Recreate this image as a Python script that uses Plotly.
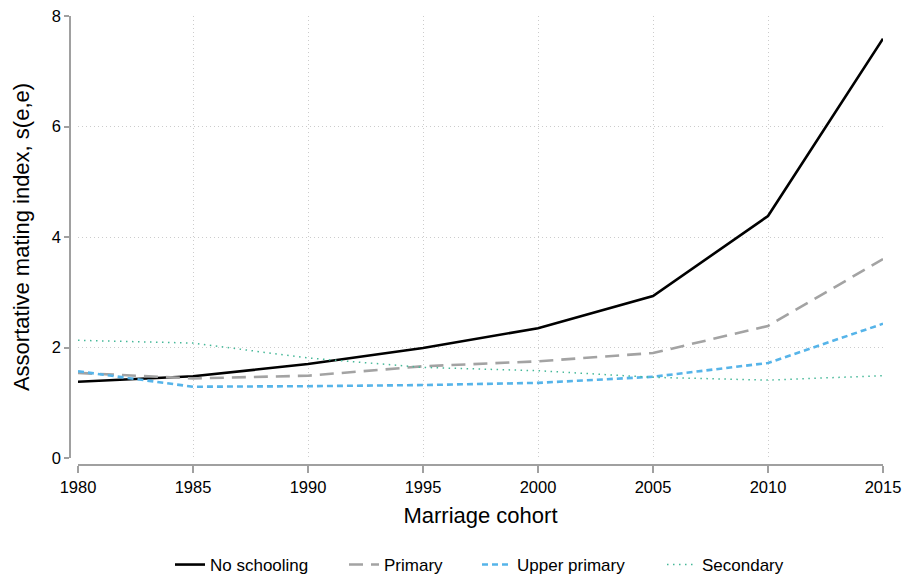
import plotly.graph_objects as go

years = [1980, 1985, 1990, 1995, 2000, 2005, 2010, 2015]
no_schooling = [1.38, 1.48, 1.70, 1.99, 2.35, 2.93, 4.38, 7.59]
primary = [1.54, 1.44, 1.49, 1.66, 1.75, 1.90, 2.39, 3.60]
upper_primary = [1.57, 1.29, 1.30, 1.32, 1.36, 1.47, 1.72, 2.43]
secondary = [2.13, 2.08, 1.81, 1.64, 1.58, 1.46, 1.41, 1.49]

x_ticks = [1980, 1985, 1990, 1995, 2000, 2005, 2010, 2015]
y_ticks = [0, 2, 4, 6, 8]

FONT = "Liberation Sans, Arial, sans-serif"

W, H = 905, 580
# plot area (page coords): x 70..883, y 16..465
ml, mt = 70, 16
mr = W - 883
mb = H - 465
pw = W - ml - mr
ph = H - mt - mb

def px_x(page_x):
    return (page_x - ml) / pw

def px_y(page_y):
    return (mt + ph - page_y) / ph

fig = go.Figure()
fig.add_trace(go.Scatter(x=years, y=no_schooling, mode="lines", name="No schooling",
                         line=dict(color="#000000", width=2.6), legend="legend"))
fig.add_trace(go.Scatter(x=years, y=primary, mode="lines", name="Primary",
                         line=dict(color="#a3a3a3", width=2.6, dash="14px,8px"), legend="legend2"))
fig.add_trace(go.Scatter(x=years, y=upper_primary, mode="lines", name="Upper primary",
                         line=dict(color="#56b4e9", width=2.6, dash="6px,4px"), legend="legend3"))
fig.add_trace(go.Scatter(x=years, y=secondary, mode="lines", name="Secondary",
                         line=dict(color="#45b898", width=1.5, dash="1.5px,4.5px"), legend="legend4"))

legend_starts = [175, 349, 482, 667]

def leg(sx):
    return dict(x=px_x(sx - 5), xanchor="left", y=px_y(565), yanchor="middle",
                font=dict(size=17), bgcolor="rgba(0,0,0,0)", borderwidth=0)

fig.update_layout(
    width=W, height=H,
    margin=dict(l=ml, r=mr, t=mt, b=mb, autoexpand=False),
    paper_bgcolor="white", plot_bgcolor="white",
    font=dict(family=FONT, size=16.5, color="#000000"),
    showlegend=True,
    legend=leg(legend_starts[0]),
    legend2=leg(legend_starts[1]),
    legend3=leg(legend_starts[2]),
    legend4=leg(legend_starts[3]),
    xaxis=dict(
        range=[1980, 2015], domain=[8 / pw, 1],
        anchor="free", position=0, automargin=False,
        tickvals=x_ticks, ticktext=[str(v) for v in x_ticks],
        ticks="outside", ticklen=7, tickwidth=1.5, tickcolor="#a0a0a0",
        ticklabeloverflow="allow",
        showline=True, linecolor="#a0a0a0", linewidth=1.5,
        showgrid=True, gridcolor="#cccccc", griddash="1px,3px", gridwidth=1,
        zeroline=False,
        tickfont=dict(size=16.5),
        title=dict(text="Marriage cohort", font=dict(size=22), standoff=12),
    ),
    yaxis=dict(
        range=[0, 8], domain=[7 / ph, 1],
        anchor="free", position=0, automargin=False,
        tickvals=y_ticks, ticktext=[str(v) for v in y_ticks],
        ticks="outside", ticklen=5, tickwidth=1.5, tickcolor="#a0a0a0",
        ticklabeloverflow="allow",
        showline=True, linecolor="#a0a0a0", linewidth=1.5,
        showgrid=True, gridcolor="#cccccc", griddash="1px,3px", gridwidth=1,
        zeroline=False,
        tickfont=dict(size=16.5),
        title=dict(text="Assortative mating index, s(e,e)", font=dict(size=22), standoff=15),
    ),
)

fig.write_html(
    "out.html",
    config={"displayModeBar": False},
    post_script="document.body.style.margin='0';document.body.style.overflow='hidden';",
)
